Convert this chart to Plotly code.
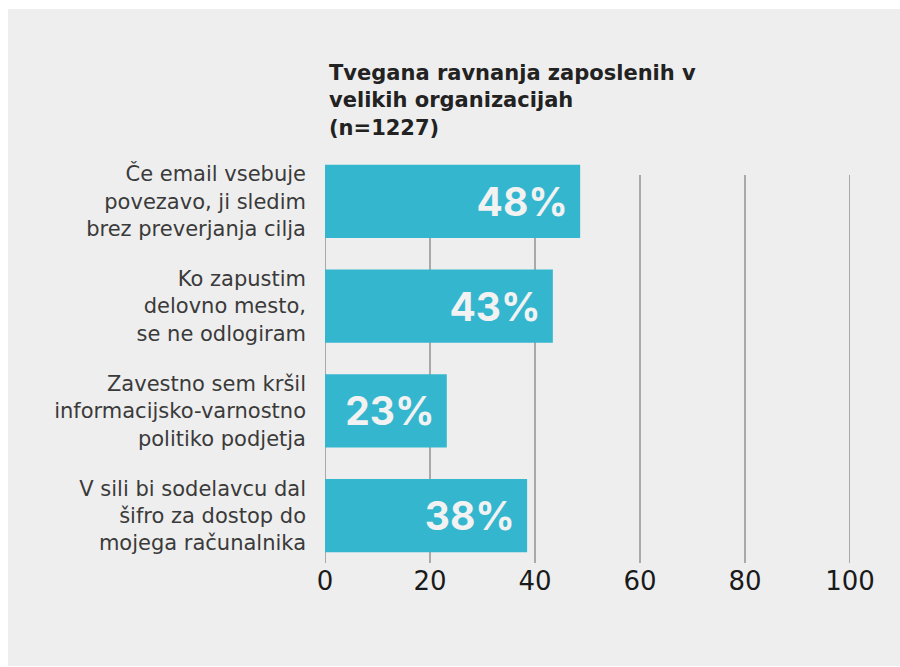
import plotly.graph_objects as go

categories = [
    "Če email vsebuje<br>povezavo, ji sledim<br>brez preverjanja cilja",
    "Ko zapustim<br>delovno mesto,<br>se ne odlogiram",
    "Zavestno sem kršil<br>informacijsko-varnostno<br>politiko podjetja",
    "V sili bi sodelavcu dal<br>šifro za dostop do<br>mojega računalnika",
]
values = [48.6, 43.4, 23.2, 38.5]
value_labels = ["48%", "43%", "23%", "38%"]
tick_values = [0, 20, 40, 60, 80, 100]
title_text = "Tvegana ravnanja zaposlenih v<br>velikih organizacijah<br>(n=1227)"

W, H = 900, 667
L, R, T, B = 325, 50, 149, 99
pw, ph = W - L - R, H - T - B

def px_x(p):
    return (p - L) / pw

def px_y(p):
    return (H - B - p) / ph

BG = "#eeeeee"
BAR = "#34b6cf"
GRID = "#a9a9ab"

fig = go.Figure()
fig.add_trace(go.Bar(
    x=values,
    y=categories,
    orientation="h",
    marker=dict(color=BAR, line=dict(width=0)),
    text=[s + "\u00a0" for s in value_labels],
    textposition="inside",
    insidetextanchor="end",
    textangle=0,
    insidetextfont=dict(family="Inter", size=39, color="#f2f2f2", weight="bold"),
    hoverinfo="skip",
))

shapes = [dict(type="rect", xref="paper", yref="paper",
               x0=px_x(8), x1=px_x(905), y0=px_y(666), y1=px_y(9),
               fillcolor=BG, line=dict(width=0), layer="below")]
for t in tick_values:
    shapes.append(dict(type="line", xref="x", yref="paper",
                       x0=t, x1=t, y0=px_y(563), y1=px_y(175),
                       line=dict(color=GRID, width=2), layer="below"))

fig.update_layout(
    width=W, height=H,
    margin=dict(l=L, r=R, t=T, b=B, pad=0),
    paper_bgcolor="white",
    plot_bgcolor="rgba(0,0,0,0)",
    bargap=0.30,
    showlegend=False,
    shapes=shapes,
    annotations=[dict(
        text=title_text, xref="paper", yref="paper",
        x=px_x(327), y=px_y(59), xanchor="left", yanchor="top",
        align="left", showarrow=False,
        font=dict(family="DejaVu Sans", size=21, color="#222222", weight="bold"),
    )],
    xaxis=dict(
        range=[0, 100], tickvals=tick_values, showgrid=False, zeroline=False,
        showline=False, ticks="", fixedrange=True, ticklabelstandoff=-5,
        tickfont=dict(family="DejaVu Sans", size=26, color="#1a1a1a"),
    ),
    yaxis=dict(
        autorange="reversed", showgrid=False, zeroline=False, showline=False,
        ticks="", ticklabelstandoff=18, fixedrange=True,
        tickfont=dict(family="DejaVu Sans", size=21, color="#3a3a3a"),
    ),
)

fig.write_html(
    "out.html",
    config={"displayModeBar": False},
    post_script="document.body.style.margin='0';document.body.style.overflow='hidden';",
)
